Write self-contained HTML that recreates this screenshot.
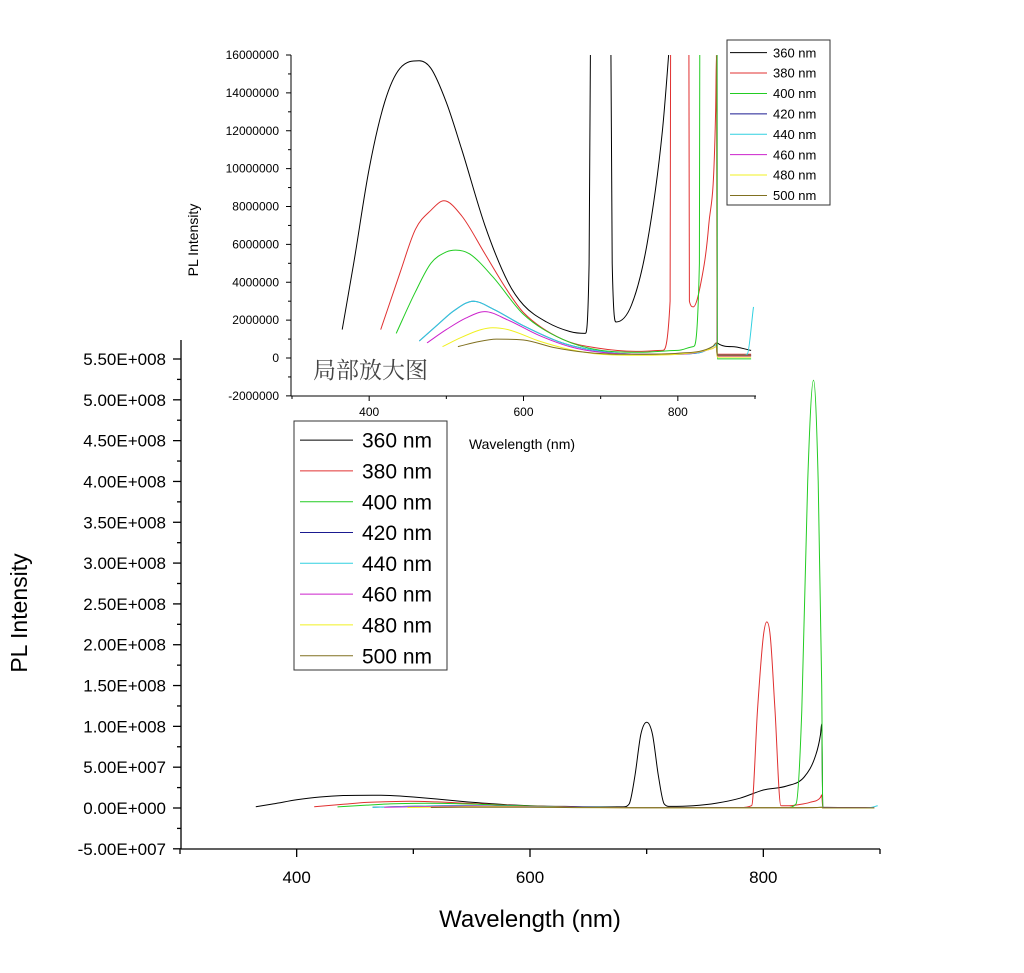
<!DOCTYPE html>
<html><head><meta charset="utf-8"><style>
html,body{margin:0;padding:0;background:#fff;}
svg{display:block;font-family:"Liberation Sans","Noto Sans CJK SC",sans-serif;}
</style></head><body>
<svg id="chart" width="1024" height="973" viewBox="0 0 1024 973" xmlns="http://www.w3.org/2000/svg"></svg>
<script>
// ---- data ----
const seriesNames = ["360 nm","380 nm","400 nm","420 nm","440 nm","460 nm","480 nm","500 nm"];
const seriesColors = ["#000000","#e03030","#22cc22","#1a1a90","#30d0e0","#cc22cc","#f0f020","#807020"];
const wl360 = [365,380,400,420,440,465,480,500,520,550,580,600,630,660,680,685,690,695,700,705,710,715,720,740,760,780,800,820,835,845,849,850,851,870,895];
const pl360 = [1.5e6,5e6,10e6,13.5e6,15.3e6,15.7e6,15.3e6,13.5e6,11e6,7e6,4e6,2.8e6,1.9e6,1.4e6,1.3e6,5e6,4e7,9e7,1.05e8,9e7,4e7,5e6,1.9e6,2.8e6,6e6,1.2e7,2.2e7,2.7e7,3.8e7,6.5e7,9e7,1.03e8,0.8e6,0.6e6,0.4e6];
const wl380 = [415,440,460,480,497,520,550,580,600,650,700,750,780,790,795,800,803,806,810,815,820,830,840,849,850,851,895];
const pl380 = [1.5e6,4.5e6,6.8e6,7.8e6,8.3e6,7.5e6,5.5e6,3.5e6,2.4e6,1.0e6,0.5e6,0.35e6,0.4e6,3e6,1.2e8,2.1e8,2.28e8,2.1e8,1.2e8,3e6,2.7e6,4e6,7e6,1.3e7,1.6e7,0.2e6,0.2e6];
const wl400 = [435,460,480,500,512,530,560,600,650,700,750,800,820,828,833,838,843,847,850,851,852,895];
const pl400 = [1.3e6,3.5e6,5e6,5.6e6,5.7e6,5.5e6,4.3e6,2.3e6,1.0e6,0.4e6,0.3e6,0.4e6,0.6e6,5e6,1.2e8,4e8,5.24e8,4e8,1.5e8,-0.05e6,-0.05e6,-0.05e6];
const wl420 = [465,490,510,535,560,600,650,700,750,800,830,845,850,851,895];
const pl420 = [0.9e6,1.8e6,2.5e6,3.0e6,2.6e6,1.7e6,0.8e6,0.35e6,0.2e6,0.2e6,0.3e6,0.6e6,0.7e6,0.15e6,0.15e6];
const wl440 = [465,490,510,535,560,600,650,700,750,800,830,845,850,851,885,890,898];
const pl440 = [0.9e6,1.8e6,2.5e6,3.0e6,2.6e6,1.7e6,0.8e6,0.35e6,0.2e6,0.2e6,0.3e6,0.6e6,0.7e6,0.15e6,0.15e6,0.2e6,2.7e6];
const wl460 = [475,500,525,550,580,620,660,700,750,800,845,850,851,895];
const pl460 = [0.8e6,1.5e6,2.1e6,2.45e6,2.0e6,1.2e6,0.6e6,0.3e6,0.2e6,0.2e6,0.5e6,0.6e6,0.1e6,0.1e6];
const wl480 = [495,520,545,560,580,620,660,700,750,800,845,850,851,895];
const pl480 = [0.6e6,1.1e6,1.5e6,1.6e6,1.5e6,0.9e6,0.45e6,0.2e6,0.15e6,0.2e6,0.5e6,0.6e6,0.05e6,0.05e6];
const wl500 = [515,540,565,600,640,680,720,760,800,845,850,851,895];
const pl500 = [0.6e6,0.85e6,1.0e6,0.95e6,0.55e6,0.3e6,0.2e6,0.2e6,0.25e6,0.6e6,0.8e6,0.15e6,0.15e6];
const allWl = [wl360,wl380,wl400,wl420,wl440,wl460,wl480,wl500];
const allPl = [pl360,pl380,pl400,pl420,pl440,pl460,pl480,pl500];
const mainYTicks = [-5e7,0,5e7,1e8,1.5e8,2e8,2.5e8,3e8,3.5e8,4e8,4.5e8,5e8,5.5e8];
const mainYLabels = ["-5.00E+007","0.00E+000","5.00E+007","1.00E+008","1.50E+008","2.00E+008","2.50E+008","3.00E+008","3.50E+008","4.00E+008","4.50E+008","5.00E+008","5.50E+008"];
const xTicks = [400,600,800];
const insetYTicks = [-2e6,0,2e6,4e6,6e6,8e6,10e6,12e6,14e6,16e6];
const insetYLabels = ["-2000000","0","2000000","4000000","6000000","8000000","10000000","12000000","14000000","16000000"];

const NS="http://www.w3.org/2000/svg";
const svg=document.getElementById('chart');
function mk(tag,attrs,parent){const e=document.createElementNS(NS,tag);for(const k in attrs)e.setAttribute(k,attrs[k]);(parent||svg).appendChild(e);return e;}

const mx=w=>180+(w-300)*(700/600);
const my=v=>808-v*(449/5.5e8);
const ix=w=>292+(w-300)*(463/600);
const iy=v=>358-v*(303/16e6);

// monotone cubic path
function monoPath(xs,ys){
  const n=xs.length;const d=[],m=[];
  for(let i=0;i<n-1;i++)d.push((ys[i+1]-ys[i])/(xs[i+1]-xs[i]));
  m[0]=d[0];m[n-1]=d[n-2];
  for(let i=1;i<n-1;i++){m[i]=(d[i-1]*d[i]<=0)?0:(d[i-1]+d[i])/2;}
  for(let i=0;i<n-1;i++){if(d[i]===0){m[i]=0;m[i+1]=0;continue;}
    const a=m[i]/d[i],b=m[i+1]/d[i],s=a*a+b*b;if(s>9){const t=3/Math.sqrt(s);m[i]=t*a*d[i];m[i+1]=t*b*d[i];}}
  let p='M'+xs[0].toFixed(1)+','+ys[0].toFixed(1);
  for(let i=0;i<n-1;i++){const h=(xs[i+1]-xs[i])/3;
    p+=' C'+(xs[i]+h).toFixed(1)+','+(ys[i]+m[i]*h).toFixed(1)+' '+(xs[i+1]-h).toFixed(1)+','+(ys[i+1]-m[i+1]*h).toFixed(1)+' '+xs[i+1].toFixed(1)+','+ys[i+1].toFixed(1);}
  return p;
}

function drawSeries(xf,yf,clipId,prefix){
  const g=mk('g',{'clip-path':'url(#'+clipId+')'});
  
  
  for(let s=0;s<allWl.length;s++){
    const xs=allWl[s].map(xf),ys=allPl[s].map(yf);
    const p=mk('path',{d:monoPath(xs,ys),fill:'none',stroke:seriesColors[s],'stroke-width':1},g);
    
    
  }
}
const defs=mk('defs',{});
const c1=mk('clipPath',{id:'mainclip'},defs);mk('rect',{x:181,y:330,width:700,height:518},c1);
const c2=mk('clipPath',{id:'insetclip'},defs);mk('rect',{x:291,y:55,width:465,height:340},c2);

// ---- main chart ----
drawSeries(mx,my,'mainclip','main');
const ma=mk('g',{stroke:'#000','stroke-width':1.3});


mk('line',{x1:181,y1:340,x2:181,y2:849},ma);
mk('line',{x1:181,y1:849,x2:880,y2:849},ma);
for(let v=-5e7;v<=5.5e8;v+=2.5e7){const major=Math.round(v/2.5e7)%2===0;mk('line',{x1:major?173:177,y1:my(v),x2:181,y2:my(v)},ma);}
for(let w=300;w<=900;w+=100){const major=w%200===0;mk('line',{x1:mx(w),y1:849,x2:mx(w),y2:major?857:854},ma);}
mainYTicks.forEach((v,i)=>{const t=mk('text',{x:166,y:my(v)+6,'text-anchor':'end','font-size':17});t.textContent=mainYLabels[i];

});
xTicks.forEach(w=>{const t=mk('text',{x:mx(w),y:883,'text-anchor':'middle','font-size':17});t.textContent=w;

});
let t=mk('text',{x:530,y:927,'text-anchor':'middle','font-size':24});t.textContent='Wavelength (nm)';


t=mk('text',{x:0,y:0,'text-anchor':'middle','font-size':23,transform:'translate(27,613) rotate(-90)'});t.textContent='PL Intensity';



// ---- inset ----
drawSeries(ix,iy,'insetclip','inset');
const ia=mk('g',{stroke:'#000','stroke-width':1});


mk('line',{x1:291,y1:55,x2:291,y2:396},ia);
mk('line',{x1:291,y1:396,x2:756,y2:396},ia);
for(let v=-2e6;v<=16e6;v+=1e6){const major=Math.round(v/1e6)%2===0;mk('line',{x1:major?286:288,y1:iy(v),x2:291,y2:iy(v)},ia);}
for(let w=300;w<=900;w+=100){const major=w%200===0;mk('line',{x1:ix(w),y1:396,x2:ix(w),y2:major?401:399},ia);}
insetYTicks.forEach((v,i)=>{const tt=mk('text',{x:279,y:iy(v)+4,'text-anchor':'end','font-size':12});tt.textContent=insetYLabels[i];

});
xTicks.forEach(w=>{const tt=mk('text',{x:ix(w),y:416,'text-anchor':'middle','font-size':12});tt.textContent=w;

});
t=mk('text',{x:522,y:449,'text-anchor':'middle','font-size':14});t.textContent='Wavelength (nm)';


t=mk('text',{x:0,y:0,'text-anchor':'middle','font-size':14,transform:'translate(198,240) rotate(-90)'});t.textContent='PL Intensity';


t=mk('text',{x:313,y:378,'font-size':23,fill:'#444','font-family':'"Noto Serif CJK SC",serif'});t.textContent='局部放大图';



// ---- legends ----
function legend(x,y,w,h,step,lx1,lx2,tx,fs,prefix){
  const g=mk('g',{});
  
  
  mk('rect',{x:x,y:y,width:w,height:h,fill:'#fff',stroke:'#333','stroke-width':1},g);
  seriesNames.forEach((n,i)=>{
    const yy=y+step*0.62+i*step;
    const l=mk('line',{x1:x+lx1,y1:yy,x2:x+lx2,y2:yy,stroke:seriesColors[i],'stroke-width':1},g);
    
    
    const tx2=mk('text',{x:x+tx,y:yy+fs*0.36,'font-size':fs},g);tx2.textContent=n;
    
    
  });
}
legend(294,421,153,249,30.8,6,59,68,21,'main');
legend(727,40,103,165,20.4,3,40,46,13,'inset');
</script>
</body></html>
